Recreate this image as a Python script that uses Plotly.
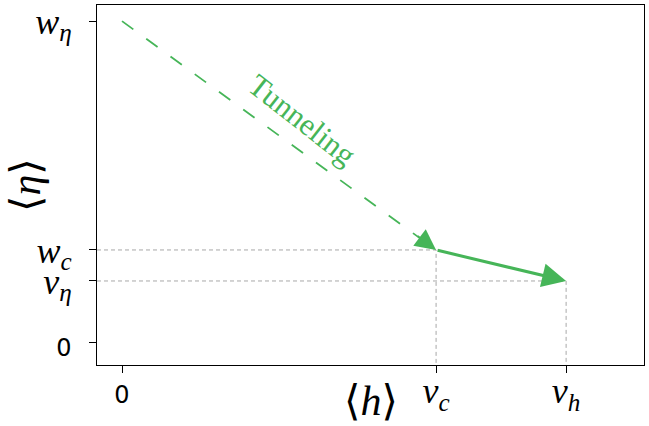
import plotly.graph_objects as go

# Symbolic positions (arbitrary units)
x_ticks = [0.0, 1.0, 1.414]          # 0, v_c, v_h
x_ticktext = ["0", "v_c", "v_h"]
y_ticks = [0.0, 1.0, 1.5, 5.19]       # 0, v_eta, w_c, w_eta
y_ticktext = ["0", "v_eta", "w_c", "w_eta"]

v_c, v_h = 1.0, 1.414
v_eta, w_c, w_eta = 1.0, 1.5, 5.19

tunnel_x = [0.0, v_c]
tunnel_y = [w_eta, w_c]
flow_x = [v_c, v_h]
flow_y = [w_c, v_eta]

x_range = [-0.0796, 1.662]
y_range = [-0.355, 5.45]

GREEN = "#46b558"
GREY = "#a8a8a8"
SERIF = "Liberation Serif, DejaVu Serif, serif"


def mathlabel(s):
    if s == "0":
        return "<span style='font-family:DejaVu Sans;font-size:24px'>0</span>"
    base, sub = s.split("_")
    sub = {"eta": "η", "c": "c", "h": "h"}[sub]
    return f"<i>{base}</i><sub><i>{sub}</i></sub>"


fig = go.Figure()

# grey guide lines
fig.add_trace(go.Scatter(x=[x_range[0], v_c, v_c], y=[w_c, w_c, y_range[0]],
                         mode="lines", line=dict(color=GREY, width=1, dash="4px,3px"),
                         hoverinfo="skip", showlegend=False))
fig.add_trace(go.Scatter(x=[x_range[0], v_h, v_h], y=[v_eta, v_eta, y_range[0]],
                         mode="lines", line=dict(color=GREY, width=1, dash="4px,3px"),
                         hoverinfo="skip", showlegend=False))

# tunneling dashed line
fig.add_trace(go.Scatter(x=tunnel_x, y=tunnel_y, mode="lines",
                         line=dict(color=GREEN, width=1.8, dash="14px,16px"),
                         hoverinfo="skip", showlegend=False))

# arrowhead for tunneling line
fig.add_annotation(x=tunnel_x[1], y=tunnel_y[1], ax=-20, ay=-15, text="",
                   showarrow=True, arrowhead=2, arrowsize=2.3, arrowwidth=1.8,
                   arrowcolor=GREEN, standoff=0)
# solid arrow
fig.add_annotation(x=flow_x[1], y=flow_y[1], ax=flow_x[0], ay=flow_y[0],
                   axref="x", ayref="y", text="",
                   showarrow=True, arrowhead=2, arrowsize=1.6, arrowwidth=3,
                   arrowcolor=GREEN, standoff=0)

# Tunneling label
fig.add_annotation(x=0.572, y=3.6, text="Tunneling", showarrow=False,
                   textangle=38, font=dict(family=SERIF, size=31, color=GREEN))

# axis titles
fig.add_annotation(xref="paper", yref="paper", x=0.5, y=-0.1, text="⟨<i>h</i>⟩",
                   xanchor="center", yanchor="middle",
                   showarrow=False, font=dict(family=SERIF, size=42, color="black"))
fig.add_annotation(xref="paper", yref="paper", x=-0.13, y=0.5, text="⟨<i>η</i>⟩",
                   xanchor="center", yanchor="middle",
                   showarrow=False, textangle=-90,
                   font=dict(family=SERIF, size=42, color="black"))

axis_common = dict(showline=True, linecolor="black", linewidth=1.3, mirror=True,
                   ticks="outside", ticklen=7, tickwidth=1.3, tickcolor="black",
                   showgrid=False, zeroline=False, automargin=False)

fig.update_xaxes(range=x_range, tickvals=x_ticks,
                 ticktext=[mathlabel(t) for t in x_ticktext],
                 tickfont=dict(family=SERIF, size=36, color="black"),
                 ticklabelstandoff=-13,
                 **axis_common)
fig.update_yaxes(range=y_range, tickvals=y_ticks,
                 ticktext=[mathlabel(t) for t in y_ticktext],
                 tickfont=dict(family=SERIF, size=36, color="black"),
                 ticklabelstandoff=10,
                 **axis_common)

fig.update_layout(width=649, height=426, margin=dict(l=97, r=5, t=5, b=61),
                  plot_bgcolor="white", paper_bgcolor="white")

fig.write_html("out.html", config={"displayModeBar": False},
               post_script="document.body.style.margin='0px';")
